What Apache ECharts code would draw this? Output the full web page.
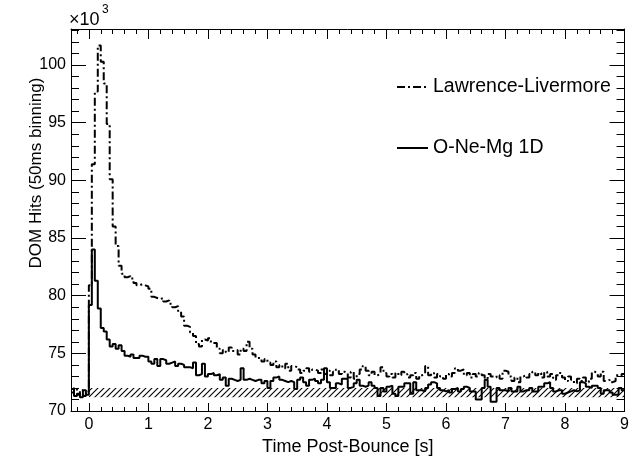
<!DOCTYPE html>
<html><head><meta charset="utf-8">
<script src="https://cdn.jsdelivr.net/npm/echarts@6/dist/echarts.min.js"></script>
<style>html,body{margin:0;padding:0;background:#fff}#c{width:632px;height:461px}</style>
</head><body><div id="c"></div>
<script>
// ---- data (values in units of 10^3 DOM hits, 50 ms bins starting at -0.3 s) ----
const binStart = -0.3;
const binWidth = 0.05;
const seriesNames = ['Lawrence-Livermore', 'O-Ne-Mg 1D'];
const llValues = [
  71.6, 72.0, 71.4, 71.8, 71.3, 71.7,
  80.9, 91.4, 97.7, 101.7, 100.3, 98.4, 94.9, 90.1,
  86.0, 84.3, 82.6, 81.9,
  81.6, 81.7, 81.5, 81.1, 80.9, 81.0, 80.9, 80.8, 80.6,
  79.9, 79.8, 79.7, 79.8, 79.5, 79.6,
  79.3, 79.0, 79.1, 78.6, 78.2, 77.4, 77.3, 76.8, 76.5,
  75.8, 75.6, 76.2, 76.1, 76.3, 75.9, 75.9, 75.4,
  75.0, 75.3, 75.1, 75.5, 75.2, 75.3, 74.9, 75.4, 75.2, 76.0, 75.4, 74.9, 74.6,
  74.6, 74.3, 74.5, 74.2, 74.0, 74.3, 73.8, 74.0, 73.7, 74.1, 73.5, 73.9,
  73.8, 73.6, 73.3, 73.5, 73.7, 73.4, 73.6, 73.5, 73.3, 73.6, 73.2, 73.5, 73.1,
  73.4, 73.6, 73.2, 73.4, 73.3, 72.9, 73.4, 72.8, 73.2, 73.6, 73.9, 73.5, 73.1,
  73.4, 73.1, 73.2, 73.8, 73.3, 73.0, 73.2, 72.9, 73.3, 73.1,
  73.4, 73.2, 72.9, 73.1, 73.3, 72.8, 73.1, 73.2, 73.9, 73.1,
  73.3, 72.9, 73.2, 73.0, 72.8, 73.2, 73.0, 73.3, 73.7, 73.5,
  73.6, 73.1, 73.3, 72.9, 73.2, 73.0, 73.3, 73.1, 72.8, 73.2,
  73.0, 72.9, 73.1, 72.8, 73.5, 73.4, 73.0, 72.6, 72.9, 72.5,
  73.0, 73.1, 72.9, 73.2, 73.4, 73.1, 73.3, 72.9, 73.4, 73.0,
  73.2, 72.7, 73.1, 73.3, 72.9, 72.6, 73.0, 72.7, 72.4, 72.8,
  72.6, 72.9, 72.5, 72.8, 73.4, 73.3, 73.0, 73.4, 72.6, 72.7,
  72.5, 72.6, 73.1, 73.0, 73.2
];
const oneMgValues = [
  71.9, 71.3, 71.5, 71.2, 71.8, 71.4,
  79.2, 84.0, 81.3, 78.9, 77.2, 76.9, 76.2, 75.6,
  75.8, 75.4, 75.7, 75.2, 74.8, 74.7, 74.9, 74.6, 74.6, 74.8, 74.7, 74.7, 74.3, 74.1, 74.5, 73.9, 74.5, 74.4,
  74.1, 74.2, 74.3, 73.9, 74.1, 74.0, 73.8, 73.8, 73.7, 74.2, 73.1, 73.2, 74.1, 73.0, 73.2, 73.3,
  73.1, 73.2, 72.7, 72.9, 72.2, 72.8, 72.7, 72.6, 72.7, 73.7, 72.7, 72.8, 72.7, 72.6, 72.7,
  72.7, 72.4, 72.6, 72.0, 72.6, 72.9, 73.0, 72.7, 72.6, 72.5, 72.6, 72.5, 71.9, 72.7, 72.9,
  72.5, 72.2, 72.7, 72.8, 72.6, 72.4, 72.7, 73.7, 72.5, 72.0, 72.0, 72.4, 72.3, 72.8, 72.8,
  72.0, 72.1, 72.4, 72.7, 72.2, 72.1, 72.2, 72.5,
  72.2, 72.0, 71.3, 72.0, 71.7, 72.1, 72.2, 71.5, 71.3, 72.1,
  72.1, 72.4, 72.4, 71.5, 72.5, 71.8, 71.8, 71.7, 72.0, 72.3,
  72.5, 72.4, 72.0, 71.8, 71.7, 71.8, 71.6, 71.9, 72.0, 71.7,
  71.9, 72.1, 72.0, 71.7, 71.7, 71.0, 71.0, 72.0, 72.7, 72.1,
  70.8, 70.8, 72.0, 71.8, 71.8, 71.7, 72.0, 71.7, 71.7, 72.1,
  71.7, 71.8, 71.8, 72.0, 71.7, 71.7, 72.1, 72.1, 72.4, 72.5,
  72.0, 71.7, 71.8, 71.8, 71.5, 71.6, 71.7, 71.8, 71.7, 71.8,
  72.5, 72.4, 72.1, 72.0, 72.2, 72.2, 72.0, 71.5, 71.8, 71.8,
  71.6, 71.4, 71.4, 72.0, 71.8
];
// hatched background band: [tStart, tEnd], [low, high]
const bandT = [0, 9];
const bandY = [71.2, 72.0];
// axis ticks
const xRange = [-0.3, 9];
const yRange = [70, 103.13];
const xMajorTicks = [0, 1, 2, 3, 4, 5, 6, 7, 8, 9];
const xMinorTicks = [-0.2, 0.2, 0.4, 0.6, 0.8, 1.2, 1.4, 1.6, 1.8, 2.2, 2.4, 2.6, 2.8, 3.2, 3.4, 3.6, 3.8,
  4.2, 4.4, 4.6, 4.8, 5.2, 5.4, 5.6, 5.8, 6.2, 6.4, 6.6, 6.8, 7.2, 7.4, 7.6, 7.8, 8.2, 8.4, 8.6, 8.8];
const yMajorTicks = [70, 75, 80, 85, 90, 95, 100];
const yMinorTicks = [71, 72, 73, 74, 76, 77, 78, 79, 81, 82, 83, 84, 86, 87, 88, 89, 91, 92, 93, 94, 96, 97, 98, 99, 101, 102, 103];

// ---- chart ----
const FONT = 'Liberation Sans, Arial, Helvetica, sans-serif';
function histPoints(vals) {
  const pts = vals.map((v, i) => [+(binStart + i * binWidth).toFixed(3), v]);
  pts.push([+(binStart + vals.length * binWidth).toFixed(3), vals[vals.length - 1]]);
  return pts;
}
function hatchPattern() {
  const c = document.createElement('canvas');
  c.width = 6; c.height = 6;
  const g = c.getContext('2d');
  g.strokeStyle = '#000'; g.lineWidth = 1.1;
  g.beginPath();
  g.moveTo(0, 6); g.lineTo(6, 0);
  g.moveTo(-1, 1); g.lineTo(1, -1);
  g.moveTo(5, 7); g.lineTo(7, 5);
  g.stroke();
  return c;
}
function xAxisDef(pos, ticks, len, labels) {
  return {
    type: 'value', position: pos, min: xRange[0], max: xRange[1],
    axisLine: {show: labels, onZero: false, lineStyle: {color: '#000', width: 1}},
    axisTick: {show: true, inside: true, length: len, customValues: ticks, lineStyle: {color: '#000', width: 1}},
    axisLabel: {show: labels && pos === 'bottom', customValues: ticks, margin: 6, color: '#000', fontSize: 16, fontFamily: FONT},
    splitLine: {show: false},
    name: (labels && pos === 'bottom') ? 'Time Post-Bounce [s]' : '',
    nameLocation: 'middle', nameGap: 27,
    nameTextStyle: {color: '#000', fontSize: 18, fontFamily: FONT, verticalAlign: 'top'}
  };
}
function yAxisDef(pos, ticks, len, labels) {
  return {
    type: 'value', position: pos, min: yRange[0], max: yRange[1],
    axisLine: {show: labels, onZero: false, lineStyle: {color: '#000', width: 1}},
    axisTick: {show: true, inside: true, length: len, customValues: ticks, lineStyle: {color: '#000', width: 1}},
    axisLabel: {show: labels && pos === 'left', customValues: ticks, margin: 5, color: '#000', fontSize: 16, fontFamily: FONT},
    splitLine: {show: false}
  };
}
const chart = echarts.init(document.getElementById('c'), null, {renderer: 'canvas'});
chart.setOption({
  backgroundColor: '#fff',
  animation: false,
  grid: {left: 71, right: 3, top: 29, bottom: 43, containLabel: false},
  xAxis: [
    xAxisDef('bottom', xMajorTicks, 8, true),
    xAxisDef('bottom', xMinorTicks, 4, false),
    xAxisDef('top', xMajorTicks, 10, true),
    xAxisDef('top', xMinorTicks, 5, false)
  ],
  yAxis: [
    yAxisDef('left', yMajorTicks, 15, true),
    yAxisDef('left', yMinorTicks, 8, false),
    yAxisDef('right', yMajorTicks, 15, true),
    yAxisDef('right', yMinorTicks, 8, false)
  ],
  legend: {
    orient: 'vertical', left: 391, top: 72, itemWidth: 31, itemHeight: 14, itemGap: 41,
    itemStyle: {opacity: 0, borderWidth: 0},
    textStyle: {color: '#000', fontSize: 19.5, fontFamily: FONT},
    data: seriesNames
  },
  graphic: [
    {type: 'text', x: 69, y: 11, style: {text: '×10', fontSize: 18, fontFamily: FONT, fill: '#000'}},
    {type: 'text', x: 102, y: 4, style: {text: '3', fontSize: 12, fontFamily: FONT, fill: '#000'}},
    {type: 'text', x: 36, y: 173, rotation: Math.PI / 2,
      style: {text: 'DOM Hits (50ms binning)', fontSize: 17, fontFamily: FONT, fill: '#000', align: 'center', verticalAlign: 'middle'}}
  ],
  series: [
    {
      type: 'line', name: 'band', data: [], silent: true, z: 1,
      markArea: {
        silent: true,
        itemStyle: {color: {image: hatchPattern(), repeat: 'repeat'}, borderWidth: 0},
        data: [[{xAxis: bandT[0], yAxis: bandY[0]}, {xAxis: bandT[1], yAxis: bandY[1]}]]
      }
    },
    {
      type: 'line', name: seriesNames[0], data: histPoints(llValues), step: 'end',
      symbol: 'none', z: 3, clip: true,
      lineStyle: {color: '#000', width: 2, type: [8, 3, 2, 3]},
      itemStyle: {color: '#000'}
    },
    {
      type: 'line', name: seriesNames[1], data: histPoints(oneMgValues), step: 'end',
      symbol: 'none', z: 4, clip: true,
      lineStyle: {color: '#000', width: 2, type: 'solid'},
      itemStyle: {color: '#000'}
    }
  ]
});
</script></body></html>
